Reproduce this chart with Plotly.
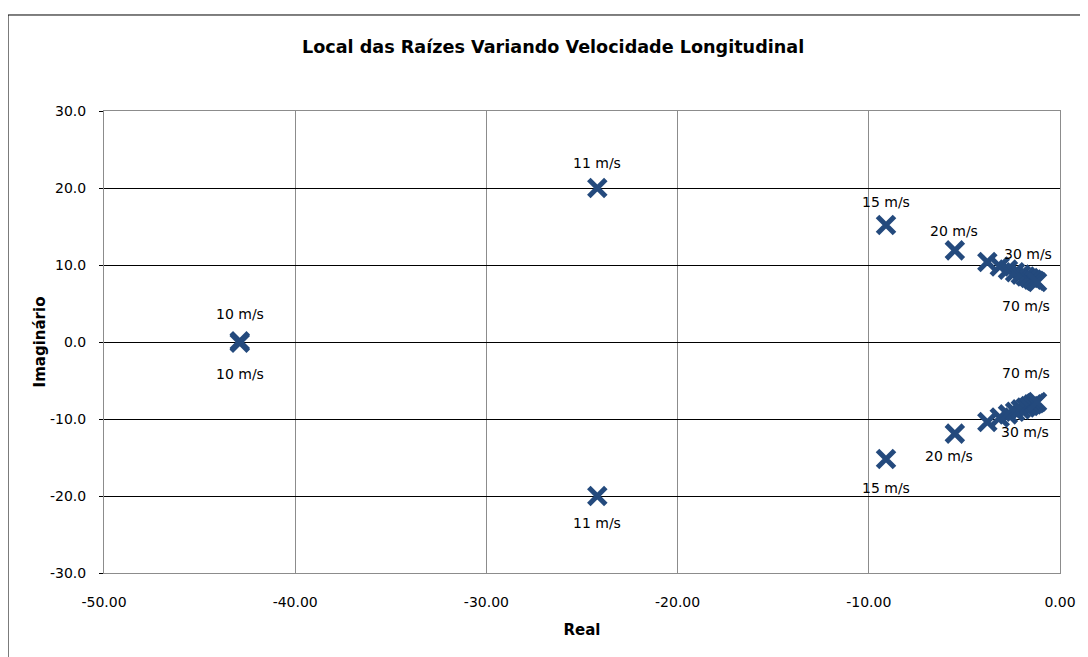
import plotly.graph_objects as go

speeds = [10, 11, 15, 20, 25, 30, 35, 40, 45, 50, 55, 60, 65, 70]
real_part = [-42.9, -24.2, -9.1, -5.5, -3.8, -3.15, -2.72, -2.35, -2.05, -1.8, -1.6, -1.43, -1.3, -1.2]
imag_part = [0.1, 20.0, 15.2, 11.9, 10.4, 9.8, 9.4, 9.05, 8.75, 8.5, 8.3, 8.1, 7.95, 7.8]

x_ticks = [-50, -40, -30, -20, -10, 0]
y_ticks = [-30, -20, -10, 0, 10, 20, 30]

# label: (speed, branch sign, xshift, yshift)
labels = [
    (10, 1, 0, 27), (10, -1, 0, -31),
    (11, 1, 0, 25), (11, -1, 0, -27),
    (15, 1, 0, 23), (15, -1, 0, -29),
    (20, 1, -1, 19), (20, -1, -6, -22),
    (30, 1, 28, 13), (30, -1, 25, -15),
    (70, 1, -11, -24), (70, -1, -11, 29),
]

MARK = "#244A7D"
FONT = "DejaVu Sans, Liberation Sans, Arial, sans-serif"

xs = real_part + real_part
ys = imag_part + [-v for v in imag_part]

fig = go.Figure()
fig.add_trace(go.Scatter(
    x=xs, y=ys, mode="markers",
    marker=dict(symbol="x-thin-open", size=17, color=MARK, line=dict(width=5, color=MARK)),
    showlegend=False, hoverinfo="x+y",
))

for sp, sign, dx, dy in labels:
    i = speeds.index(sp)
    fig.add_annotation(x=real_part[i], y=sign * imag_part[i], xref="x", yref="y",
                       text=f"{sp} m/s", showarrow=False, xshift=dx, yshift=dy,
                       font=dict(family=FONT, size=14, color="black"))

fig.add_annotation(x=0.4697, y=1.138, xref="paper", yref="paper",
                   xanchor="center", yanchor="middle",
                   text="<b>Local das Raízes Variando Velocidade Longitudinal</b>",
                   showarrow=False, font=dict(family=FONT, size=17.6, color="black"))

fig.add_shape(type="rect", xref="paper", yref="paper",
              x0=-0.1004, y0=-0.3, x1=1.2, y1=1.2078,
              line=dict(color="black", width=1), layer="below")

fig.update_layout(
    width=1088, height=657,
    margin=dict(l=96, r=36, t=103, b=92),
    paper_bgcolor="white", plot_bgcolor="white",
    font=dict(family=FONT, size=14, color="black"),
)
fig.update_xaxes(
    range=[-50, 0], tickvals=x_ticks, ticktext=[f"{v:.2f}" for v in x_ticks],
    showgrid=True, gridcolor="#8c8c8c", gridwidth=1,
    showline=True, linecolor="#8c8c8c", linewidth=1, mirror=True,
    zeroline=True, zerolinecolor="black", zerolinewidth=1,
    ticks="", tickfont=dict(family=FONT, size=14), ticklabelstandoff=16,
    title=dict(text="<b>Real</b>", font=dict(family=FONT, size=15), standoff=15),
)
fig.update_yaxes(
    range=[-30, 30], tickvals=y_ticks, ticktext=[f"{v:.1f}" for v in y_ticks],
    showgrid=True, gridcolor="black", gridwidth=1,
    showline=True, linecolor="#8c8c8c", linewidth=1, mirror=True,
    zeroline=True, zerolinecolor="black", zerolinewidth=1,
    ticks="outside", ticklen=4, tickcolor="black",
    tickfont=dict(family=FONT, size=14), ticklabelstandoff=10,
    title=dict(text="<b>Imaginário</b>", font=dict(family=FONT, size=15), standoff=0),
)

fig.write_html("out.html")
